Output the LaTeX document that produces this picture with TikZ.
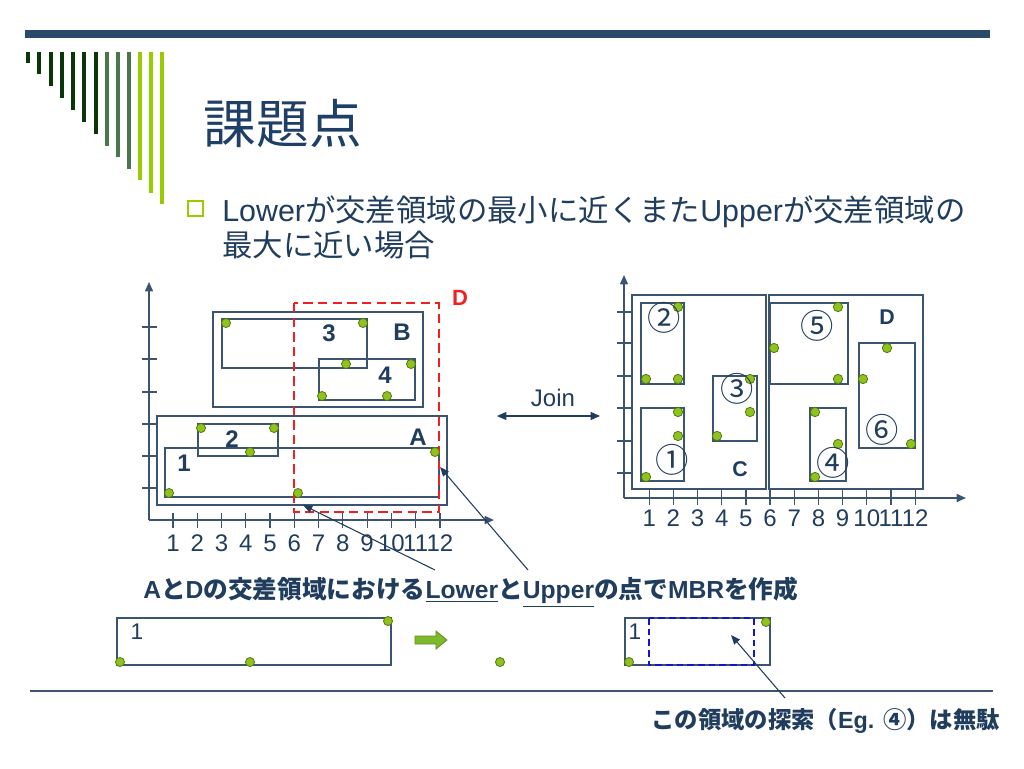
\documentclass[tikz,border=0pt]{standalone}
\usepackage{fontspec}
\setmainfont{Liberation Sans}
\newfontfamily\jp{Noto Sans CJK JP}
\usetikzlibrary{arrows.meta}
\definecolor{navy}{HTML}{213D5E}
\definecolor{titlec}{HTML}{1F3F66}
\definecolor{linec}{HTML}{3C5470}
\definecolor{barblue}{HTML}{294A6B}
\definecolor{darkg}{HTML}{0A360A}
\definecolor{medg}{HTML}{4A774A}
\definecolor{limeg}{HTML}{99CC00}
\definecolor{dotc}{HTML}{8DC21F}
\definecolor{dotdark}{HTML}{55780F}
\definecolor{redc}{HTML}{F02020}
\definecolor{bluec}{HTML}{1414C8}
\definecolor{arrg}{HTML}{7DB92E}
\definecolor{arrgd}{HTML}{5E8F1E}
\tikzset{
  box/.style={draw=linec, line width=0.9pt},
  dashD/.style={draw=redc, line width=1.7pt, dash pattern=on 7pt off 4pt},
  dashB/.style={draw=bluec, line width=1.4pt, dash pattern=on 5pt off 3pt},
  axis/.style={draw=linec, line width=1.2pt, -{Triangle[length=7pt,width=6pt]}},
  tickmark/.style={draw=linec, line width=0.9pt},
  ptr/.style={draw=navy, line width=0.8pt, -{Triangle[length=7pt,width=5.5pt]}},
  lab/.style={text=navy, font=\bfseries\fontsize{18}{18}\selectfont, inner sep=0pt},
  ticklab/.style={text=navy, font=\fontsize{18}{18}\selectfont, inner sep=0pt},
  circ/.style={text=navy, font=\jp\fontsize{25}{25}\selectfont, inner sep=0pt},
  pnt/.style={fill=dotc, draw=dotdark, line width=0.6pt},
}
\begin{document}
\begin{tikzpicture}[x=0.75pt,y=-0.75pt]
\useasboundingbox (0,0) rectangle (1024,768);
% header decoration
\fill[barblue] (25,29.5) rectangle (990,37.5);
\foreach \xx/\yb/\cc in {28/63/darkg,39/74/darkg,51/86/darkg,62/98/darkg,73/110/darkg,84/122/darkg,96/134/darkg,107/146/medg,118/157/medg,129/169/medg,140/180/limeg,151/193/limeg,162/204/limeg}
  \fill[\cc] (\xx-2,52) rectangle (\xx+2,\yb);
\node[anchor=west, text=titlec, font=\jp\fontsize{39.5}{44}\selectfont] (title) at (199,124) {課題点};
% bullet
\draw[limeg, line width=1.5pt] (188,201) rectangle (203,216);
\node[anchor=west, text=navy, font=\fontsize{22.8}{25}\selectfont, inner sep=0pt] (b1) at (222,212) {Lower{\jp が交差領域の最小に近くまた}Upper{\jp が交差領域の}};
\node[anchor=west, text=navy, font=\fontsize{22.8}{25}\selectfont, inner sep=0pt] (b2) at (222,245) {{\jp 最大に近い場合}};

% ---------- left chart ----------
\coordinate (lo) at (149,520);
\coordinate (ly) at (149,282);
\coordinate (lx) at (494,520);
\draw[axis] (lo) -- (ly);
\draw[axis] (lo) -- (lx);
\foreach \yy in {327,359,392,424,456,488} \draw[tickmark] (142,\yy) -- (157,\yy);
\foreach \k in {1,...,12} {
  \draw[tickmark] ({148.7+24.27*\k},513) -- ({148.7+24.27*\k},528);
  \node[ticklab] (lt\k) at ({148.7+24.27*\k},543) {\k};
}
% rectangles
\draw[box] (213,312) rectangle (423,407);   % B
\draw[box] (222,319) rectangle (367,368);   % 3
\draw[box] (319,359) rectangle (415,400);   % 4
\draw[box] (157,416) rectangle (447,505);   % A
\draw[box] (198,424) rectangle (278,456);   % 2
\draw[box] (165,448) rectangle (439,497);   % 1
\draw[dashD] (294,303) rectangle (439,512); % D
% dots
\foreach \px/\py in {226/323,363/323,346/364,411/364,322/396,387/396,201/428,274/428,250/452,169/493,298/493,435/452}
  \draw[pnt] (\px,\py) circle[radius=3.4pt];
% labels
\node[lab] (l3) at (329,333) {3};
\node[lab] (lB) at (402,332) {B};
\node[lab] (l4) at (385,375) {4};
\node[lab] (lA) at (418,437) {A};
\node[lab] (l2) at (232,439) {2};
\node[lab] (l1) at (184,463) {1};
\node[text=redc, font=\bfseries\fontsize{16.5}{16.5}\selectfont, inner sep=0pt] (lD) at (460,298) {D};

% Join
\node[text=navy, font=\fontsize{18}{18}\selectfont, inner sep=0pt] (join) at (553,398) {Join};
\coordinate (jl) at (497,416);
\coordinate (jr) at (600,416);
\draw[draw=navy, line width=0.9pt, {Triangle[length=7pt,width=6pt]}-{Triangle[length=7pt,width=6pt]}] (jl) -- (jr);

% ---------- right chart ----------
\coordinate (ro) at (624,498);
\coordinate (ry) at (624,275);
\coordinate (rx) at (966,498);
\draw[axis] (ro) -- (ry);
\draw[axis] (ro) -- (rx);
\foreach \yy in {312,343,376,408,441,473} \draw[tickmark] (617,\yy) -- (633,\yy);
\foreach \k in {1,...,12} {
  \draw[tickmark] ({625+24.18*\k},490) -- ({625+24.18*\k},505);
  \node[ticklab] (rt\k) at ({625+24.18*\k},518) {\k};
}
\draw[box] (632,295) rectangle (766,489);  % C
\draw[box] (769,295) rectangle (923,489);  % D
\draw[box] (641,303) rectangle (684,384);  % 2
\draw[box] (641,408) rectangle (684,481);  % 1
\draw[box] (713,376) rectangle (757,441);  % 3
\draw[box] (770,303) rectangle (848,384);  % 5
\draw[box] (810,408) rectangle (846,481);  % 4
\draw[box] (859,343) rectangle (915,448);  % 6
\foreach \px/\py in {678/307,646/379,678/379,678/412,678/436,646/477,750/379,750/412,717/436,838/307,774/348,838/379,815/412,838/444,815/477,887/348,863/379,911/444}
  \draw[pnt] (\px,\py) circle[radius=3.5pt];
\node[circ] (c2) at (664,318) {②};
\node[circ] (c1) at (672,460) {①};
\node[circ] (c3) at (737,389) {③};
\node[circ] (c5) at (817,326) {⑤};
\node[circ] (c4) at (833,463) {④};
\node[circ] (c6) at (882,430) {⑥};
\node[text=navy, font=\bfseries\fontsize{16}{16}\selectfont, inner sep=0pt] (rC) at (740,469) {C};
\node[text=navy, font=\bfseries\fontsize{16}{16}\selectfont, inner sep=0pt] (rD) at (887,317) {D};

% ---------- caption and pointers ----------
\node[anchor=west, text=navy, font=\bfseries\fontsize{18.5}{20}\selectfont, inner sep=0pt] (cap) at (143,592) {A{\jp と}D{\jp の交差領域における}\underline{Lower}{\jp と}\underline{Upper}{\jp の点で}MBR{\jp を作成}};
\coordinate (s1) at (528,570);
\coordinate (u1) at (440,467);
\coordinate (s2) at (435,570);
\coordinate (d1) at (303,505);
\draw[ptr] (s1) -- (u1);
\draw[ptr] (s2) -- (d1);

% ---------- bottom row ----------
\draw[box] (117,618) rectangle (391,665);
\node[ticklab, font=\fontsize{17}{17}\selectfont] (bl1) at (137,632) {1};
\foreach \px/\py in {120/662,250/662,388/621,500/662}
  \draw[pnt] (\px,\py) circle[radius=3.4pt];
\draw[fill=arrg, draw=arrgd, line width=0.6pt] (415,636) -- (436,636) -- (436,631) -- (447,640) -- (436,649) -- (436,644) -- (415,644) -- cycle;
\draw[box] (625,618) rectangle (770,665);
\draw[dashB] (649,618) rectangle (754,665);
\node[ticklab, font=\fontsize{17}{17}\selectfont] (br1) at (635,632) {1};
\foreach \px/\py in {629/662,766/622}
  \draw[pnt] (\px,\py) circle[radius=3.4pt];
\draw[linec, line width=1.1pt] (30,691) -- (993,691);
\coordinate (s3) at (785,698);
\coordinate (t3) at (731,635);
\draw[ptr] (s3) -- (t3);
\node[anchor=east, text=navy, font=\bfseries\fontsize{17.5}{20}\selectfont, inner sep=0pt] (note) at (1000,721) {{\jp この領域の探索（}Eg. {\jp ④）は無駄}};
\end{tikzpicture}
\end{document}
